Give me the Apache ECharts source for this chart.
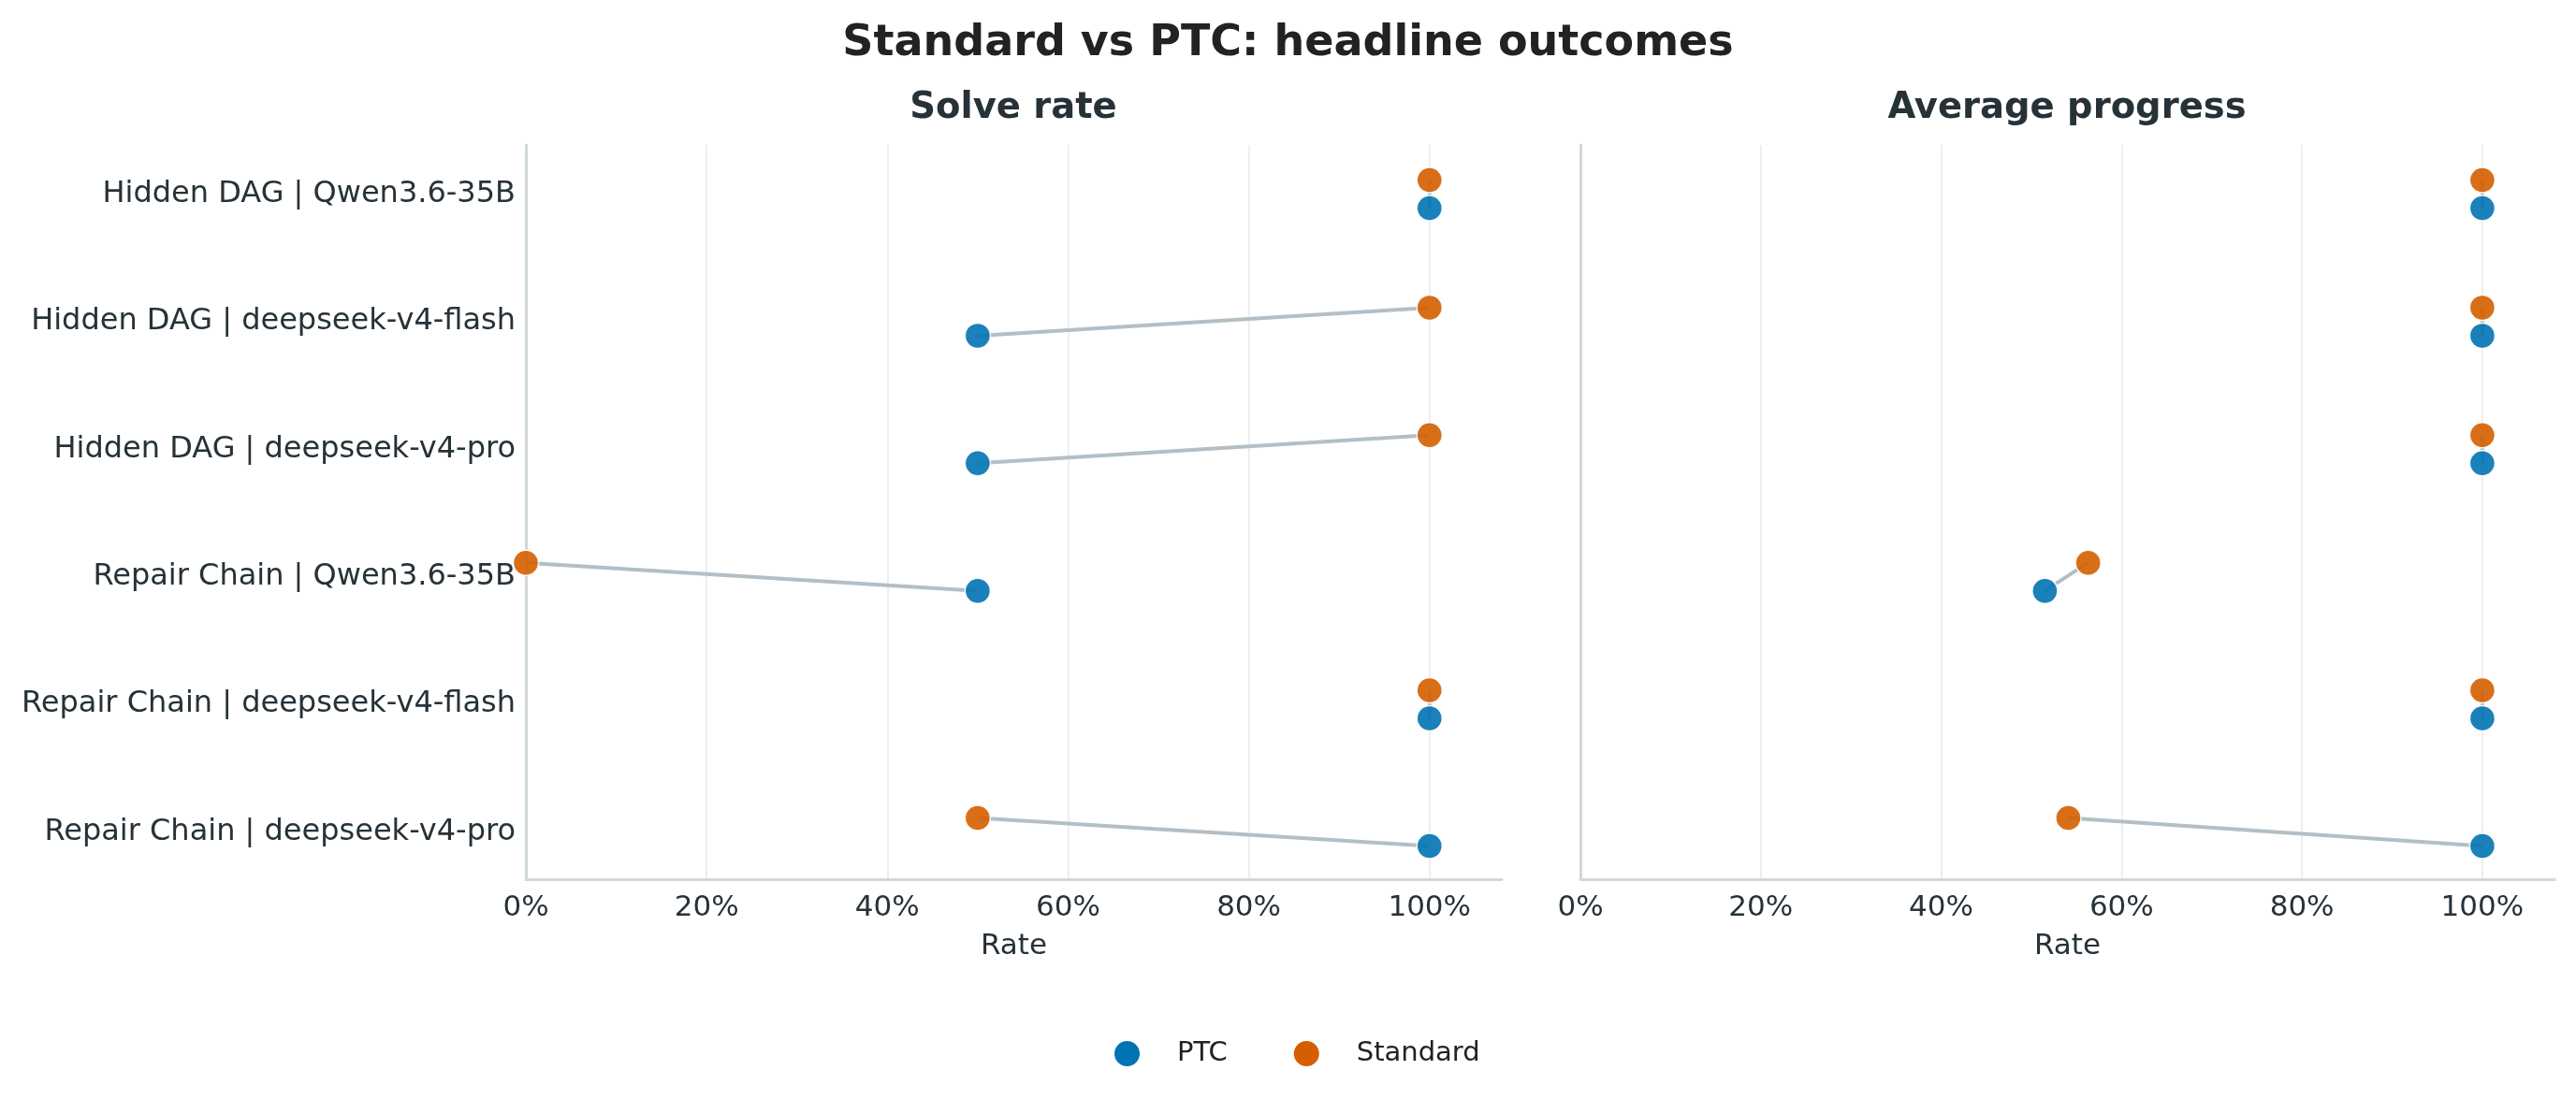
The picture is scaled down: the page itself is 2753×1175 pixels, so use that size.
<!DOCTYPE html>
<html>
<head>
<meta charset="utf-8">
<script src="https://cdn.jsdelivr.net/npm/echarts@6/dist/echarts.min.js"></script>
<style>
  html, body { margin: 0; padding: 0; background: #fff; }
  #main { width: 2753px; height: 1175px; }
</style>
</head>
<body>
<div id="main"></div>
<script>
// rows, top to bottom
const categories = [
  'Hidden DAG | Qwen3.6-35B',
  'Hidden DAG | deepseek-v4-flash',
  'Hidden DAG | deepseek-v4-pro',
  'Repair Chain | Qwen3.6-35B',
  'Repair Chain | deepseek-v4-flash',
  'Repair Chain | deepseek-v4-pro'
];
const solvePtc = [1, 0.5, 0.5, 0.5, 1, 1];
const solveStd = [1, 1, 1, 0, 1, 0.5];
const progressPtc = [1, 1, 1, 0.515, 1, 1];
const progressStd = [1, 1, 1, 0.563, 1, 0.541];
const xTicks = [0, 0.2, 0.4, 0.6, 0.8, 1.0];
const rowIndex = [0, 1, 2, 3, 4, 5];

const FONT = 'DejaVu Sans';
const PTC_COLOR = '#0173b2';
const STD_COLOR = '#d55e00';
const OFFSET = 0.11; // PTC sits a bit below the row, Standard a bit above
const AXIS_COLOR = '#cfd8dc';
const TEXT_COLOR = '#263238';

var myChart = echarts.init(document.getElementById('main'));

function xAxisFor(gridIndex) {
  return {
    type: 'value', gridIndex: gridIndex, min: 0, max: 1.08,
    name: 'Rate', nameLocation: 'middle', nameGap: 56,
    nameTextStyle: { fontFamily: FONT, fontSize: 31, color: TEXT_COLOR },
    axisLine: { show: true, onZero: false, lineStyle: { color: AXIS_COLOR, width: 3 } },
    axisTick: { show: false, customValues: xTicks },
    axisLabel: {
      customValues: xTicks, margin: 15,
      fontFamily: FONT, fontSize: 31, color: TEXT_COLOR,
      formatter: v => Math.round(v * 100) + '%'
    },
    splitLine: { show: true, lineStyle: { color: '#e6eaed', width: 1.5 } }
  };
}

function yAxisFor(gridIndex, showLabels) {
  return {
    type: 'value', gridIndex: gridIndex, inverse: true,
    min: -0.385, max: 5.371,
    axisLine: { show: true, onZero: false, lineStyle: { color: AXIS_COLOR, width: 3 } },
    axisTick: { show: false, customValues: rowIndex },
    axisLabel: {
      show: showLabels, customValues: rowIndex, margin: 11,
      fontFamily: FONT, fontSize: 32, color: TEXT_COLOR, padding: [12, 0, 0, 0],
      formatter: v => categories[Math.round(v)] || ''
    },
    splitLine: { show: false }
  };
}

function panelSeries(gridIndex, ptc, std) {
  const out = [];
  // connecting segments
  rowIndex.forEach(i => {
    out.push({
      type: 'line', name: 'link', xAxisIndex: gridIndex, yAxisIndex: gridIndex,
      data: [[ptc[i], i + OFFSET], [std[i], i - OFFSET]],
      symbol: 'none', silent: true, z: 1,
      lineStyle: { color: '#b3bec5', width: 4 }
    });
  });
  out.push({
    type: 'scatter', name: 'PTC', xAxisIndex: gridIndex, yAxisIndex: gridIndex,
    data: rowIndex.map(i => [ptc[i], i + OFFSET]),
    symbolSize: 27, z: 3,
    itemStyle: { color: PTC_COLOR, opacity: 0.9, borderColor: '#fff', borderWidth: 1.5 }
  });
  out.push({
    type: 'scatter', name: 'Standard', xAxisIndex: gridIndex, yAxisIndex: gridIndex,
    data: rowIndex.map(i => [std[i], i - OFFSET]),
    symbolSize: 27, z: 3,
    itemStyle: { color: STD_COLOR, opacity: 0.9, borderColor: '#fff', borderWidth: 1.5 }
  });
  return out;
}

var option = {
  backgroundColor: '#fff',
  animation: false,
  title: {
    text: 'Standard vs PTC: headline outcomes',
    left: 'center', top: 19,
    textStyle: { fontFamily: FONT, fontSize: 46, fontWeight: 'bold', color: '#222222' }
  },
  graphic: [
    { type: 'text', x: 1083, y: 116,
      style: { text: 'Solve rate', textAlign: 'center', textVerticalAlign: 'middle',
               font: 'bold 38.5px "DejaVu Sans"', fill: TEXT_COLOR } },
    { type: 'text', x: 2209, y: 116,
      style: { text: 'Average progress', textAlign: 'center', textVerticalAlign: 'middle',
               font: 'bold 38.5px "DejaVu Sans"', fill: TEXT_COLOR } }
  ],
  legend: {
    data: [
      { name: 'PTC', itemStyle: { color: PTC_COLOR, opacity: 1, borderWidth: 0 } },
      { name: 'Standard', itemStyle: { color: STD_COLOR, opacity: 1, borderWidth: 0 } }
    ],
    icon: 'circle', itemWidth: 27, itemHeight: 27, itemGap: 71,
    left: 1191, top: 1112, padding: 0,
    textStyle: { fontFamily: FONT, fontSize: 29, color: '#222222', padding: [0, 0, 0, 35] }
  },
  grid: [
    { left: 562, right: 1148, top: 155, bottom: 235 },
    { left: 1689, right: 23, top: 155, bottom: 235 }
  ],
  xAxis: [xAxisFor(0), xAxisFor(1)],
  yAxis: [yAxisFor(0, true), yAxisFor(1, false)],
  series: [].concat(
    panelSeries(0, solvePtc, solveStd),
    panelSeries(1, progressPtc, progressStd)
  )
};

myChart.setOption(option);
</script>
</body>
</html>
